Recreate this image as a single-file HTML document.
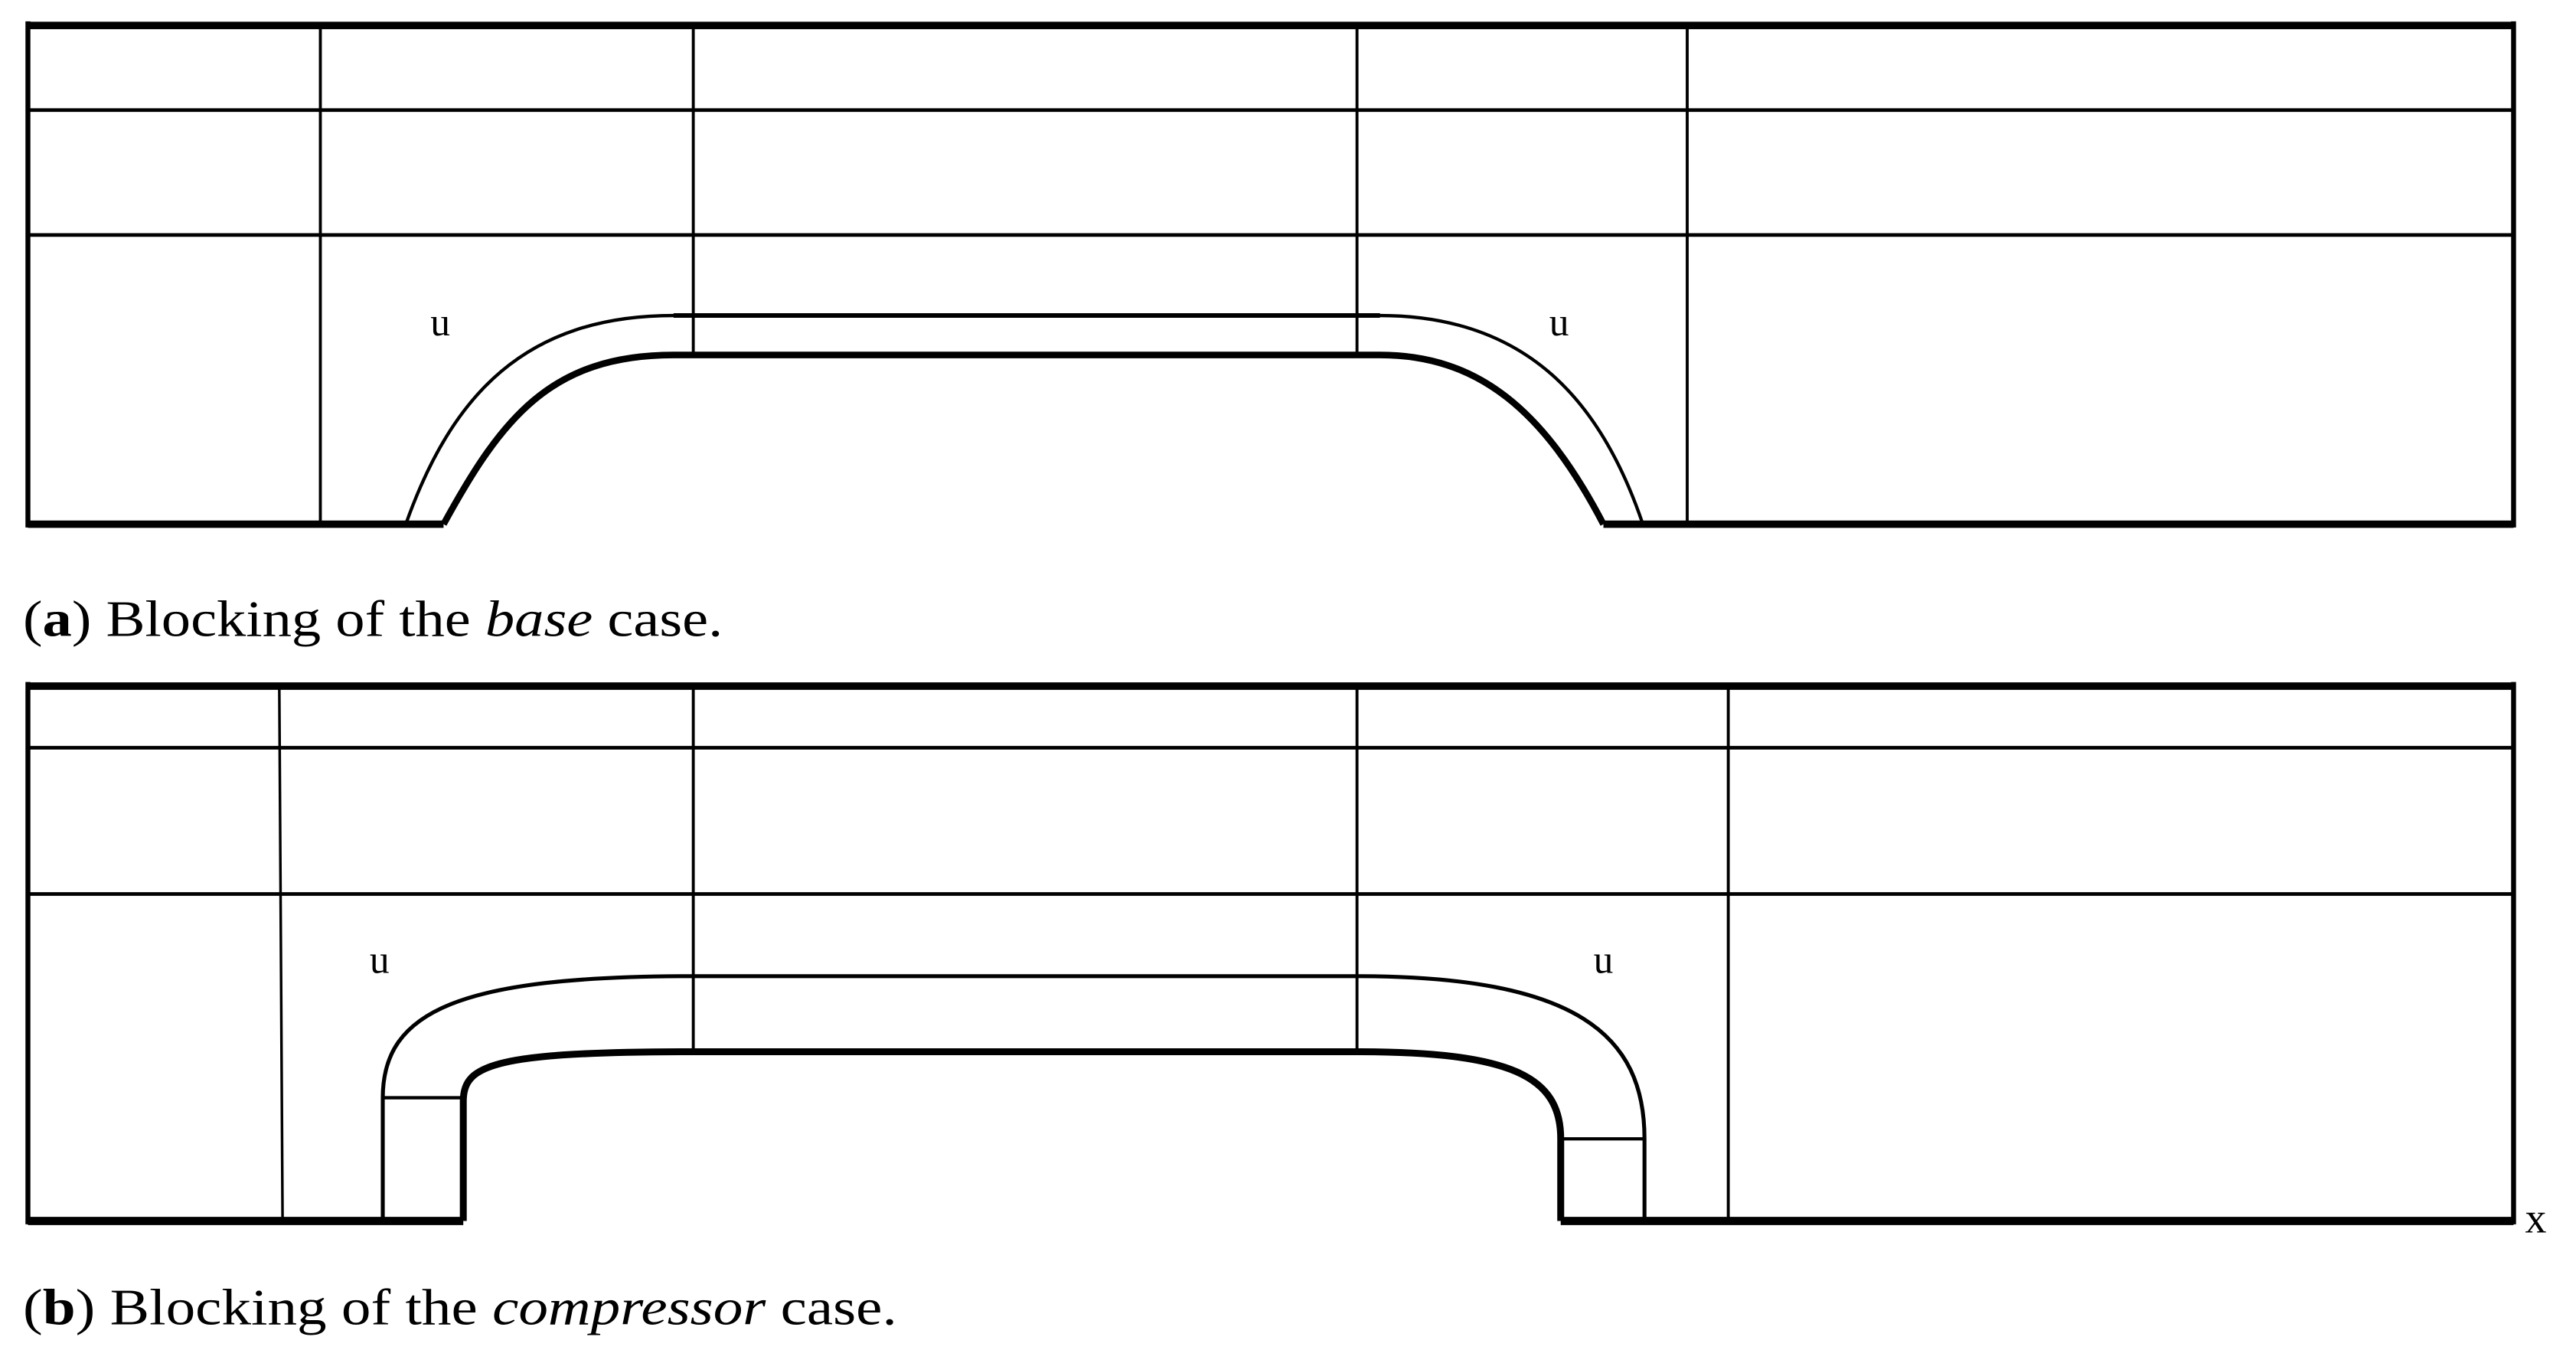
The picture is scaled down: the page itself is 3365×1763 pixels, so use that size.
<!DOCTYPE html>
<html><head><meta charset="utf-8"><style>
html,body{margin:0;padding:0;background:#fff;}
svg{display:block;}
</style></head><body>
<svg width="3365" height="1763" viewBox="0 0 1568 821.5" preserveAspectRatio="none" xmlns="http://www.w3.org/2000/svg">
<g fill="none" stroke="#000" stroke-linecap="butt">
<!-- Panel a -->
<line x1="17" y1="15.5" x2="1530" y2="15.5" stroke-width="4.5"/>
<line x1="17" y1="13" x2="17" y2="321" stroke-width="3"/>
<line x1="1530" y1="13" x2="1530" y2="321" stroke-width="3"/>
<line x1="17" y1="67" x2="1530" y2="67" stroke-width="2.2"/>
<line x1="17" y1="143" x2="1530" y2="143" stroke-width="2.2"/>
<line x1="195" y1="15" x2="195" y2="319" stroke-width="1.8"/>
<line x1="1027" y1="15" x2="1027" y2="319" stroke-width="1.8"/>
<line x1="422" y1="15" x2="422" y2="216" stroke-width="1.8"/>
<line x1="826" y1="15" x2="826" y2="216" stroke-width="1.8"/>
<line x1="17" y1="319" x2="270" y2="319" stroke-width="4.5"/>
<line x1="976" y1="319" x2="1530" y2="319" stroke-width="4.5"/>
<path d="M247 319 C275 240 320 192 410 192 L840 192 C930 192 975 245 1000 319" stroke-width="2"/>
<line x1="410" y1="192" x2="840" y2="192" stroke-width="2.8"/>
<path d="M270 319 C305 255 335 216 410 216 L840 216 C900 216 940 250 976 319" stroke-width="4"/>
<!-- Panel b -->
<line x1="17" y1="417.5" x2="1530" y2="417.5" stroke-width="4.5"/>
<line x1="17" y1="415" x2="17" y2="745" stroke-width="3"/>
<line x1="1530" y1="415" x2="1530" y2="745" stroke-width="3"/>
<line x1="17" y1="455" x2="1530" y2="455" stroke-width="2.2"/>
<line x1="17" y1="544" x2="1530" y2="544" stroke-width="2.2"/>
<line x1="170" y1="417" x2="172" y2="743" stroke-width="1.6"/>
<line x1="1052" y1="417" x2="1052" y2="743" stroke-width="1.8"/>
<line x1="422" y1="417" x2="422" y2="640" stroke-width="1.8"/>
<line x1="826" y1="417" x2="826" y2="640" stroke-width="1.8"/>
<line x1="17" y1="743" x2="282" y2="743" stroke-width="5"/>
<line x1="950" y1="743" x2="1530" y2="743" stroke-width="5"/>
<path d="M233 743 L233 668 C233 615 280 594 422 594 L826 594 C960 594 1001 630 1001 693 L1001 743" stroke-width="2.4"/>
<path d="M282 743 L282 670 C282 648 300 640 422 640 L826 640 C920 640 950 655 950 693 L950 743" stroke-width="4.2"/>
<line x1="233" y1="668" x2="282" y2="668" stroke-width="2"/>
<line x1="950" y1="693" x2="1001" y2="693" stroke-width="2"/>
</g>
<g font-family="Liberation Serif, serif" fill="#000">
<text x="262" y="204" font-size="24">u</text>
<text x="943" y="204" font-size="24">u</text>
<text x="225" y="592" font-size="24">u</text>
<text x="970" y="592" font-size="24">u</text>
<text x="1537" y="750" font-size="26">x</text>
<text x="14" y="387" font-size="31" textLength="426" lengthAdjust="spacingAndGlyphs">(<tspan font-weight="bold">a</tspan>) Blocking of the <tspan font-style="italic">base</tspan> case.</text>
<text x="14" y="806" font-size="31" textLength="532" lengthAdjust="spacingAndGlyphs">(<tspan font-weight="bold">b</tspan>) Blocking of the <tspan font-style="italic">compressor</tspan> case.</text>
</g>
</svg>
</body></html>
